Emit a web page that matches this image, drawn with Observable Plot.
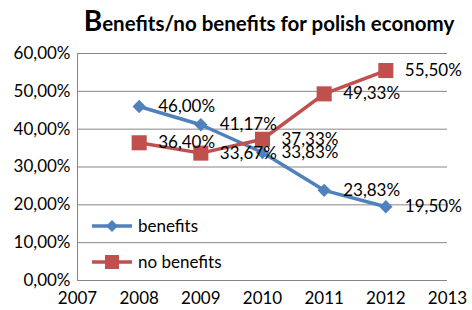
<!DOCTYPE html>
<html>
<head>
<meta charset="utf-8">
<script src="https://cdn.jsdelivr.net/npm/d3@7"></script>
<script src="https://cdn.jsdelivr.net/npm/@observablehq/plot@0.6"></script>
<style>
  html, body { margin: 0; padding: 0; background: #fff; }
  #wrap { position: relative; width: 472px; height: 310px; font-family: Lato, "Open Sans", sans-serif; }
  #title { height: 38px; box-sizing: border-box; padding-top: 5px; text-align: center; padding-left: 66px; font-weight: bold; font-size: 20.5px; color: #000; white-space: nowrap; line-height: 30px; }
  #title .big { font-size: 28px; }
  .leg { position: absolute; left: 91px; display: flex; align-items: center; font-size: 17px; color: #000; }
  .leg svg { margin-right: 5px; }
</style>
</head>
<body>
<div id="wrap">
  <div id="title"><span class="big">B</span>enefits/no benefits for polish economy</div>
  <div id="chart"></div>
</div>
<script>
const years = [2008, 2009, 2010, 2011, 2012];
const benefits = [46.00, 41.17, 33.83, 23.83, 19.50];
const noBenefits = [36.40, 33.67, 37.33, 49.33, 55.50];
const yTicks = [0, 10, 20, 30, 40, 50, 60];
const xTicks = [2007, 2008, 2009, 2010, 2011, 2012, 2013];
const seriesNames = ["benefits", "no benefits"];
const colors = ["#4F81BD", "#C0504D"];

const fmt = d => d.toFixed(2).replace(".", ",") + "%";
const blue = years.map((x, i) => ({x, y: benefits[i]}));
const red = years.map((x, i) => ({x, y: noBenefits[i]}));

const chart = Plot.plot({
  width: 472,
  height: 272,
  marginLeft: 77,
  marginRight: 25,
  marginTop: 15,
  marginBottom: 30,
  style: {fontFamily: "Lato, 'Open Sans', sans-serif", fontSize: "17px", color: "#000", background: "#fff", overflow: "visible"},
  x: {domain: [2007, 2013], label: null},
  y: {domain: [0, 60], label: null},
  marks: [
    Plot.gridY(yTicks, {stroke: "#868686", strokeOpacity: 1, strokeWidth: 1}),
    Plot.ruleX([2007], {stroke: "#868686", strokeWidth: 1}),
    Plot.axisY(yTicks, {tickSize: 0, tickPadding: 7, tickFormat: fmt, fill: "#000", fontSize: 17}),
    Plot.axisX(xTicks, {tickSize: 0, tickPadding: 11, tickFormat: d => String(d), fill: "#000", fontSize: 17}),
    Plot.line(blue, {x: "x", y: "y", stroke: colors[0], strokeWidth: 3.5}),
    Plot.line(red, {x: "x", y: "y", stroke: colors[1], strokeWidth: 3.5}),
    Plot.dot(blue, {x: "x", y: "y", symbol: "diamond2", r: 6, fill: colors[0], stroke: null}),
    Plot.dot(red, {x: "x", y: "y", symbol: "square", r: 8.5, fill: colors[1], stroke: null}),
    Plot.text(blue, {x: "x", y: "y", text: d => fmt(d.y), textAnchor: "start", dx: 19, fill: "#000", fontSize: 17}),
    Plot.text(red, {x: "x", y: "y", text: d => fmt(d.y), textAnchor: "start", dx: 19, fill: "#000", fontSize: 17})
  ]
});
document.getElementById("chart").appendChild(chart);

// legend (HTML overlay)
const wrap = document.getElementById("wrap");
const legTops = [215, 251];
seriesNames.forEach((name, i) => {
  const div = document.createElement("div");
  div.className = "leg";
  div.style.top = legTops[i] + "px";
  const marker = i === 0
    ? `<path d="M21,3 L27,9 L21,15 L15,9 Z" fill="${colors[0]}"/>`
    : `<rect x="14" y="2" width="14" height="14" fill="${colors[1]}"/>`;
  div.innerHTML = `<svg width="42" height="18"><line x1="1" x2="41" y1="9" y2="9" stroke="${colors[i]}" stroke-width="3.5"/>${marker}</svg><span>${name}</span>`;
  wrap.appendChild(div);
});
</script>
</body>
</html>
